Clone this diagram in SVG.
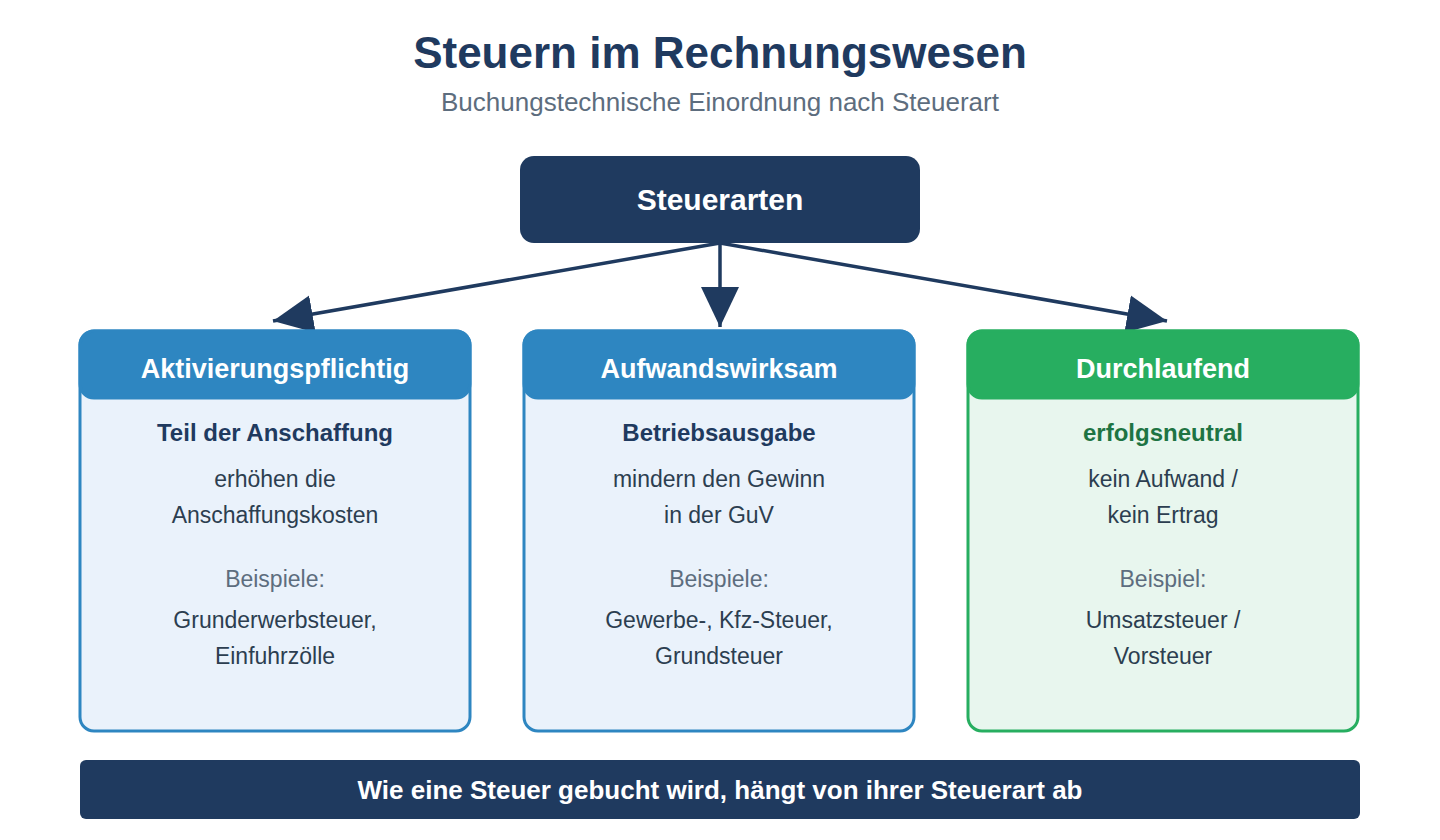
<svg xmlns="http://www.w3.org/2000/svg" width="1440" height="840" viewBox="0 0 1440 840">
<defs>
<style>
text{font-family:"Liberation Sans",Arial,Helvetica,sans-serif;text-anchor:middle}
.title{font-size:44px;font-weight:bold;fill:#1f3a5f}
.sub{font-size:26px;fill:#5d6d7e}
.root{font-size:30px;font-weight:bold;fill:#ffffff}
.hdr{font-size:27px;font-weight:bold;fill:#ffffff}
.lead{font-size:24px;font-weight:bold;fill:#1f3a5f}
.leadg{font-size:24px;font-weight:bold;fill:#1e7443}
.body{font-size:23px;fill:#2c3e50}
.ex{font-size:23px;fill:#5d6d7e}
.banner{font-size:26px;font-weight:bold;fill:#ffffff}
.cardb{fill:#eaf2fb;stroke:#2e86c1;stroke-width:3}
.cardg{fill:#e8f6ee;stroke:#27ae60;stroke-width:3}
.hb{fill:#2e86c1;stroke:#2e86c1;stroke-width:3}
.hg{fill:#27ae60;stroke:#27ae60;stroke-width:3}
.conn{stroke:#1f3a5f;stroke-width:3.5;fill:none;marker-end:url(#arr)}
</style>
<marker id="arr" markerUnits="userSpaceOnUse" markerWidth="40" markerHeight="40" viewBox="0 0 40 40" refX="40" refY="20" orient="auto">
<path d="M0,1 L40,20 L0,39 Z" fill="#1f3a5f"/>
</marker>
</defs>
<rect width="1440" height="840" fill="#ffffff"/>
<text class="title" x="720" y="68">Steuern im Rechnungswesen</text>
<text class="sub" x="720" y="111">Buchungstechnische Einordnung nach Steuerart</text>

<g id="connectors">
<line class="conn" x1="720" y1="243" x2="273" y2="321"/>
<line class="conn" x1="720" y1="243" x2="720" y2="327"/>
<line class="conn" x1="720" y1="243" x2="1167" y2="321"/>
</g>

<g id="steuerarten">
<rect x="520" y="156" width="400" height="87" rx="14" fill="#1f3a5f"/>
<text class="root" x="720" y="210">Steuerarten</text>
</g>

<g id="aktivierungspflichtig">
<rect class="cardb" x="80" y="331" width="390" height="400" rx="14"/>
<rect class="hb" x="80" y="331" width="390" height="67" rx="14"/>
<text class="hdr" x="275" y="378">Aktivierungspflichtig</text>
<text class="lead" x="275" y="441">Teil der Anschaffung</text>
<text class="body" x="275" y="487">erhöhen die</text>
<text class="body" x="275" y="523">Anschaffungskosten</text>
<text class="ex" x="275" y="587">Beispiele:</text>
<text class="body" x="275" y="628">Grunderwerbsteuer,</text>
<text class="body" x="275" y="664">Einfuhrzölle</text>
</g>

<g id="aufwandswirksam">
<rect class="cardb" x="524" y="331" width="390" height="400" rx="14"/>
<rect class="hb" x="524" y="331" width="390" height="67" rx="14"/>
<text class="hdr" x="719" y="378">Aufwandswirksam</text>
<text class="lead" x="719" y="441">Betriebsausgabe</text>
<text class="body" x="719" y="487">mindern den Gewinn</text>
<text class="body" x="719" y="523">in der GuV</text>
<text class="ex" x="719" y="587">Beispiele:</text>
<text class="body" x="719" y="628">Gewerbe-, Kfz-Steuer,</text>
<text class="body" x="719" y="664">Grundsteuer</text>
</g>

<g id="durchlaufend">
<rect class="cardg" x="968" y="331" width="390" height="400" rx="14"/>
<rect class="hg" x="968" y="331" width="390" height="67" rx="14"/>
<text class="hdr" x="1163" y="378">Durchlaufend</text>
<text class="leadg" x="1163" y="441">erfolgsneutral</text>
<text class="body" x="1163" y="487">kein Aufwand /</text>
<text class="body" x="1163" y="523">kein Ertrag</text>
<text class="ex" x="1163" y="587">Beispiel:</text>
<text class="body" x="1163" y="628">Umsatzsteuer /</text>
<text class="body" x="1163" y="664">Vorsteuer</text>
</g>

<g id="banner">
<rect x="80" y="760" width="1280" height="59" rx="6" fill="#1f3a5f"/>
<text class="banner" x="720" y="799">Wie eine Steuer gebucht wird, hängt von ihrer Steuerart ab</text>
</g>
</svg>
